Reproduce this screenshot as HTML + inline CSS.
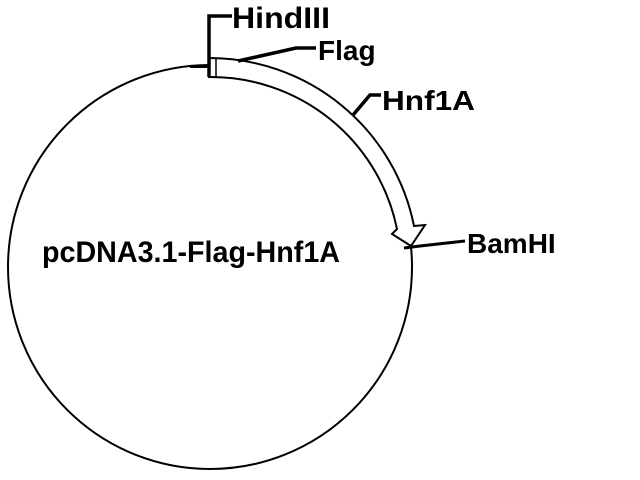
<!DOCTYPE html>
<html><head><style>body{margin:0;background:#fff}svg{display:block}</style></head><body>
<svg width="640" height="480" viewBox="0 0 640 480" xmlns="http://www.w3.org/2000/svg">
<rect width="640" height="480" fill="#fff"/>
<circle cx="210" cy="267" r="202" fill="none" stroke="#000" stroke-width="2"/>
<line x1="190" y1="67" x2="209" y2="67" stroke="#000" stroke-width="2"/>
<path d="M209,58 A209,209 0 0 1 414,226 L425,225 L411,246 L392,234 L397,229 A190,190 0 0 0 209,77 Z" fill="#fff" stroke="#000" stroke-width="2"/>
<line x1="216" y1="58" x2="216" y2="77" stroke="#000" stroke-width="1.5"/>
<polyline points="209,77 209,16 232,16" fill="none" stroke="#000" stroke-width="3.5"/>
<polyline points="238,61 296,48 316,48" fill="none" stroke="#000" stroke-width="3.5"/>
<polyline points="353,115 370,95 381,95" fill="none" stroke="#000" stroke-width="3.5"/>
<polyline points="404,248 420,246 465,241" fill="none" stroke="#000" stroke-width="3"/>
<g font-family="Liberation Sans, Arial, sans-serif" font-weight="bold" font-size="28" fill="#000">
<text x="232" y="28" font-size="30" textLength="98" lengthAdjust="spacingAndGlyphs">HindIII</text>
<text x="318" y="60">Flag</text>
<text x="382" y="110" textLength="93" lengthAdjust="spacingAndGlyphs">Hnf1A</text>
<text x="467" y="253">BamHI</text>
<text x="42" y="262" font-size="30" textLength="298" lengthAdjust="spacingAndGlyphs">pcDNA3.1-Flag-Hnf1A</text>
</g>
</svg>
</body></html>
